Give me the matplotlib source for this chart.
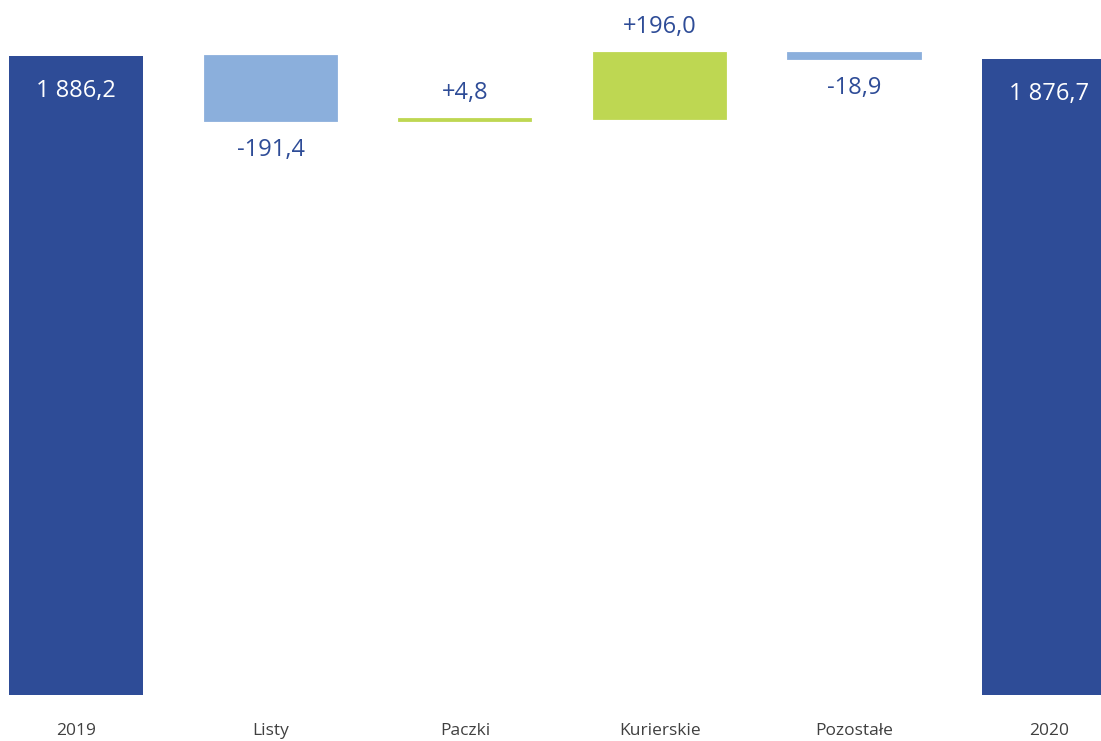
import matplotlib.pyplot as plt

# waterfall data
categories = ['2019', 'Listy', 'Paczki', 'Kurierskie', 'Pozostałe', '2020']
start_value = 1886.2
changes = [-191.4, 4.8, 196.0, -18.9]
end_value = 1876.7
labels = ['1 886,2', '-191,4', '+4,8', '+196,0', '-18,9', '1 876,7']

dark_blue = '#2E4C97'
light_blue = '#8BAFDC'
green = '#BED752'

plt.rcParams['font.family'] = ['Open Sans', 'DejaVu Sans']

fig = plt.figure(figsize=(11.01, 7.41), dpi=100)
ax = fig.add_axes([0, 46 / 741, 1, 695 / 741])

width = 0.689
x = list(range(len(categories)))

# total bars
ax.bar(x[0], start_value, width=width, color=dark_blue)
ax.bar(x[-1], end_value, width=width, color=dark_blue)

# change bars
level = start_value
for i, ch in enumerate(changes, start=1):
    c = light_blue if ch < 0 else green
    ax.bar(x[i], abs(ch), bottom=min(level, level + ch), width=width - 0.01,
           color=c, edgecolor=c, linewidth=1.3)
    level += ch

# labels
ax.annotate(labels[0], (x[0], start_value), xytext=(0, -35), textcoords='offset pixels',
            ha='center', va='center', color='white', fontsize=17)
ax.annotate(labels[-1], (x[-1], end_value), xytext=(0, -35), textcoords='offset pixels',
            ha='center', va='center', color='white', fontsize=17)
level = start_value
for i, ch in enumerate(changes, start=1):
    if ch < 0:
        ax.annotate(labels[i], (x[i], level + ch), xytext=(0, -29), textcoords='offset pixels',
                    ha='center', va='center', color=dark_blue, fontsize=17)
    else:
        ax.annotate(labels[i], (x[i], level + ch), xytext=(0, 26), textcoords='offset pixels',
                    ha='center', va='center', color=dark_blue, fontsize=17)
    level += ch

ax.set_xlim(-0.3906, 5.267)
ax.set_ylim(0, 2051)
ax.set_xticks(x)
ax.set_xticklabels(categories, fontsize=12.5, color='#404040')
ax.tick_params(axis='x', length=0, pad=20)
ax.set_yticks([])
for s in ax.spines.values():
    s.set_visible(False)

plt.savefig('out.png', dpi=100)
